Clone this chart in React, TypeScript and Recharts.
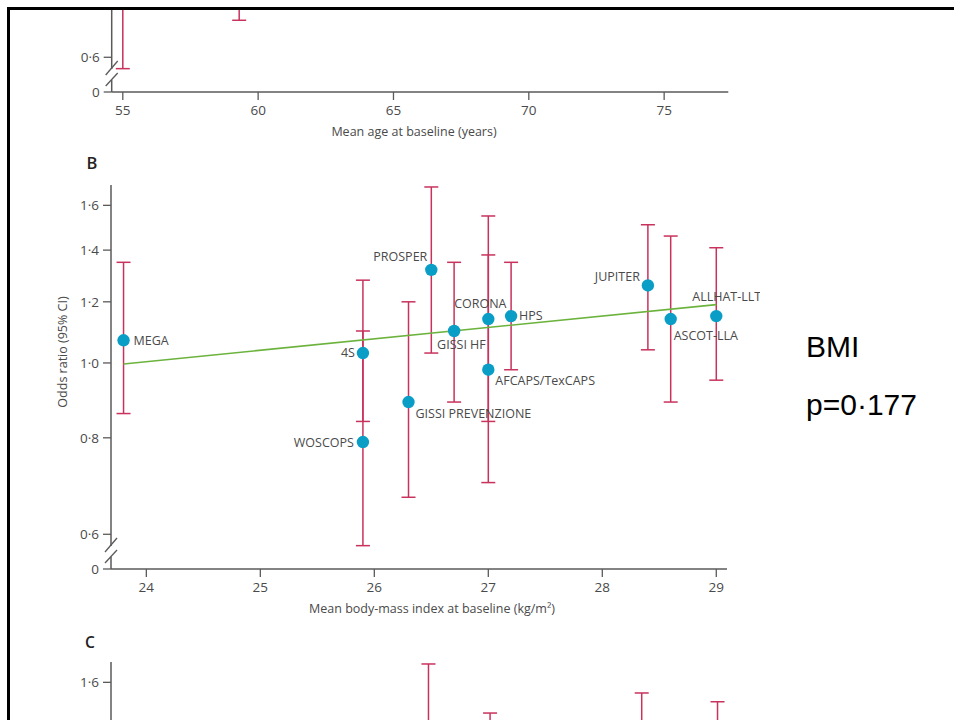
import React from 'react';
import { ScatterChart, Scatter, XAxis, YAxis, ErrorBar } from 'recharts';

// panel B: one point per trial
const studies = ['MEGA', '4S', 'WOSCOPS', 'GISSI PREVENZIONE', 'PROSPER', 'GISSI HF', 'CORONA', 'AFCAPS/TexCAPS', 'HPS', 'JUPITER', 'ASCOT-LLA', 'ALLHAT-LLT'];
const bmi = [23.8, 25.9, 25.9, 26.3, 26.5, 26.7, 27.0, 27.0, 27.2, 28.4, 28.6, 29.0];
const oddsRatio = [1.07, 1.03, 0.79, 0.89, 1.32, 1.10, 1.14, 0.98, 1.15, 1.26, 1.14, 1.15];
const ciLow = [0.86, 0.84, 0.58, 0.67, 1.03, 0.89, 0.84, 0.70, 0.98, 1.04, 0.89, 0.95];
const ciHigh = [1.35, 1.28, 1.10, 1.20, 1.69, 1.35, 1.55, 1.38, 1.35, 1.51, 1.46, 1.41];

// meta-regression line
const fitBmi = [23.8, 29.0];
const fitOr = [0.997, 1.19];

// panel A (only the bottom of the panel is in view)
const ageStudies = ['WOSCOPS', 'GISSI PREVENZIONE'];
const meanAge = [55, 59.3];

// panel C (only the top of the panel is in view)
const cStudies = ['PROSPER', 'ASCOT-LLA', 'CORONA', 'JUPITER'];
const cValues = [1.27, 1.4, 1.72, 1.88];

const bmiTicks = [24, 25, 26, 27, 28, 29];
const ageTicks = [55, 60, 65, 70, 75];
const Y_MIN = 0.541;
const orTicks = [Y_MIN, 0.6, 0.8, 1.0, 1.2, 1.4, 1.6];
const orTicksA = [Y_MIN, 0.6];
const orTicksC = [1.6];

const DOT = '#0a9dc6';
const CI = '#c8325c';
const FIT = '#6cb33e';
const AXIS = '#5a5a5a';
const TEXT = '#4a4a4a';
const FONT = '"Open Sans", "DejaVu Sans", sans-serif';
const TICK_SIZE = 8;
const TICK_MARGIN = 4;

const idx = (name: string) => studies.indexOf(name);
const point = (name: string, x: number) => {
  const i = idx(name);
  return { name, x, y: oddsRatio[i], err: [oddsRatio[i] - ciLow[i], ciHigh[i] - oddsRatio[i]] };
};

const bData = studies.map((s, i) => point(s, bmi[i]));
const aData = ageStudies.map((s, i) => point(s, meanAge[i]));
const cData = cStudies.map((s, i) => point(s, cValues[i]));
const fitData = fitBmi.map((x, i) => ({ x, y: fitOr[i] }));

// label offsets from the dot centre
const labelPos: Record<string, [number, number, string]> = {
  MEGA: [10, 0, 'start'],
  '4S': [-8, 0, 'end'],
  PROSPER: [-4, -13, 'end'],
  'GISSI HF': [-17, 14, 'start'],
  CORONA: [-8, -15, 'middle'],
  HPS: [8, 0, 'start'],
  'AFCAPS/TexCAPS': [7, 11, 'start'],
  'GISSI PREVENZIONE': [7, 12, 'start'],
  WOSCOPS: [-9, 1, 'end'],
  JUPITER: [-8, -9, 'end'],
  'ASCOT-LLA': [3, 17, 'start'],
  'ALLHAT-LLT': [-24, -19, 'start'],
};

const fmt = (v: number) => (v === Y_MIN ? '0' : v.toFixed(1).replace('.', '·'));

const YTick = (props: any) => {
  const { x, y, payload } = props;
  const ax = x + TICK_SIZE + TICK_MARGIN;
  const isBreak = payload.value === Y_MIN;
  return (
    <g>
      {isBreak && (
        <g>
          <rect x={ax - 3} y={y - 23} width={6} height={11} fill="#fff" />
          <line x1={ax - 6} y1={y - 6} x2={ax + 6} y2={y - 19} stroke={AXIS} strokeWidth={1.3} />
          <line x1={ax - 6} y1={y - 17} x2={ax + 6} y2={y - 31} stroke={AXIS} strokeWidth={1.3} />
        </g>
      )}
      <text x={x} y={y} dy="0.35em" textAnchor="end" fill={TEXT} fontSize={13.5} fontFamily={FONT}>
        {fmt(payload.value)}
      </text>
    </g>
  );
};

const Dot = (props: any) => {
  const { cx, cy, payload, showLabel } = props;
  const pos = showLabel ? labelPos[payload.name] : undefined;
  return (
    <g>
      <circle cx={cx} cy={cy} r={6.2} fill={DOT} />
      {pos && (
        <text x={cx + pos[0]} y={cy + pos[1]} dy="0.35em" textAnchor={pos[2] as any} fill={TEXT} fontSize={12.5} fontFamily={FONT}>
          {payload.name}
        </text>
      )}
    </g>
  );
};

const xLabel = (text: string, dx: number) => (p: any) => {
  const vb = p.viewBox;
  return (
    <text x={vb.x + vb.width / 2 + dx} y={vb.y + 43.5} textAnchor="middle" fill={TEXT} fontSize={12.5} fontFamily={FONT}>
      {text}
    </text>
  );
};

const yLabel = (p: any) => {
  const vb = p.viewBox;
  const cx = vb.x + 15.5;
  const cy = vb.y + vb.height / 2 - 25;
  return (
    <text x={cx} y={cy} transform={`rotate(-90 ${cx} ${cy})`} textAnchor="middle" fill={TEXT} fontSize={12.5} fontFamily={FONT}>
      Odds ratio (95% CI)
    </text>
  );
};

const axisLine = { stroke: AXIS, strokeWidth: 1.5 };
const tickLine = { stroke: AXIS, strokeWidth: 1.3 };
const xTick = { fill: TEXT, fontSize: 13.5, fontFamily: FONT };

interface PanelProps {
  data: any[];
  domain: [number, number];
  ticks: number[];
  yTicks: number[];
  top: number;
  left: number;
  right: number;
  title?: string;
  titleDx?: number;
  withFit?: boolean;
  yTitle?: boolean;
  labels?: boolean;
}

const Panel = ({ data, domain, ticks, yTicks, top, left, right, title, titleDx = 0, withFit, yTitle, labels }: PanelProps) => (
  <div style={{ position: 'absolute', left: 0, top }}>
    <ScatterChart width={760} height={470} margin={{ top: 35, right, bottom: 21, left }}>
      <XAxis
        type="number"
        dataKey="x"
        domain={domain}
        ticks={ticks}
        height={30}
        axisLine={axisLine}
        tickLine={tickLine}
        tickSize={TICK_SIZE}
        tickMargin={5}
        tick={title ? xTick : false}
        label={title ? { content: xLabel(title, titleDx) } : undefined}
      />
      <YAxis
        type="number"
        dataKey="y"
        scale="log"
        domain={[Y_MIN, 1.7]}
        ticks={yTicks}
        width={60}
        axisLine={axisLine}
        tickLine={tickLine}
        tickSize={TICK_SIZE}
        tickMargin={TICK_MARGIN}
        tick={<YTick />}
        label={yTitle ? { content: yLabel } : undefined}
      />
      {withFit && (
        <Scatter data={fitData} line={{ stroke: FIT, strokeWidth: 1.6 }} shape={() => <g />} isAnimationActive={false} />
      )}
      <Scatter data={data} shape={(p: any) => <Dot {...p} showLabel={labels} />} isAnimationActive={false}>
        <ErrorBar dataKey="err" direction="y" width={7} stroke={CI} strokeWidth={1.5} />
      </Scatter>
    </ScatterChart>
  </div>
);

export default function App() {
  return (
    <div style={{ position: 'absolute', left: 0, top: 0, width: 954, height: 720, overflow: 'hidden', background: '#fff' }}>
      <div style={{ position: 'absolute', left: 0, top: 0, width: 954, height: 720, clipPath: 'inset(10px 0 0 10px)' }}>
        <Panel
          data={aData}
          domain={[54.59, 77.37]}
          ticks={ageTicks}
          yTicks={orTicksA}
          top={-327}
          left={51.7}
          right={31.7}
          title="Mean age at baseline (years)"
          titleDx={-6}
        />
        <Panel
          data={bData}
          domain={[23.69, 29.094]}
          ticks={bmiTicks}
          yTicks={orTicks}
          top={150}
          left={51}
          right={33}
          title="Mean body-mass index at baseline (kg/m²)"
          titleDx={13}
          withFit
          yTitle
          labels
        />
        <Panel data={cData} domain={[0.6, 1.9]} ticks={[]} yTicks={orTicksC} top={626.7} left={51} right={33} />
        <svg width={954} height={720} style={{ position: 'absolute', left: 0, top: 0, pointerEvents: 'none' }}>
          <text x={86.5} y={169.3} fontSize={16.5} fontWeight={600} fill="#222" fontFamily={FONT}>B</text>
          <text x={85} y={647.5} fontSize={15.5} fontWeight={600} fill="#222" fontFamily={FONT}>C</text>
          <text x={806} y={357.3} fontSize={30} fill="#000" fontFamily='"Liberation Sans", Arial, sans-serif'>BMI</text>
          <text x={806} y={415} fontSize={30} fill="#000" fontFamily='"Liberation Sans", Arial, sans-serif'>p=0·177</text>
        </svg>
      </div>
      <div style={{ position: 'absolute', left: 7, top: 7, width: 1000, height: 800, border: '3px solid #000', boxSizing: 'border-box' }} />
    </div>
  );
}
